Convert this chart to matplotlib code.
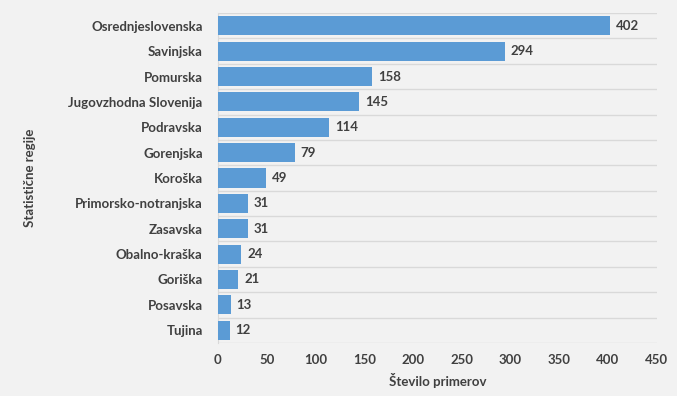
import matplotlib.pyplot as plt
import numpy as np

# === Data ===
regions = ["Osrednjeslovenska", "Savinjska", "Pomurska", "Jugovzhodna Slovenija",
           "Podravska", "Gorenjska", "Koroška", "Primorsko-notranjska", "Zasavska",
           "Obalno-kraška", "Goriška", "Posavska", "Tujina"]
counts = [402, 294, 158, 145, 114, 79, 49, 31, 31, 24, 21, 13, 12]
xticks = [0, 50, 100, 150, 200, 250, 300, 350, 400, 450]

bg = "#f2f2f2"
txt = "#404040"
plt.rcParams['font.family'] = ['Lato', 'DejaVu Sans']

fig = plt.figure(figsize=(6.77, 3.96), dpi=100, facecolor=bg)
ax = fig.add_axes([0.322, 0.134, 0.648, 0.833], facecolor=bg)

y = np.arange(len(regions))
ax.barh(y, counts, height=0.75, color="#5b9bd5", zorder=3)

for yi, c in zip(y, counts):
    ax.text(c + 6, yi, str(c), va="center", ha="left", fontsize=9.5,
            fontweight="bold", color=txt)

# horizontal gridlines between categories
for b in np.arange(-0.5, len(regions), 1.0):
    ax.axhline(b, color="#d9d9d9", lw=1, zorder=1)

ax.set_ylim(len(regions) - 0.5, -0.5)
ax.set_xlim(0, 450)
ax.set_yticks(y)
ax.set_yticklabels(regions, fontsize=9.5, fontweight="bold", color=txt)
ax.set_xticks(xticks)
ax.set_xticklabels([str(t) for t in xticks], fontsize=9.5, fontweight="bold", color=txt)
ax.tick_params(axis="y", length=0, pad=11)
ax.tick_params(axis="x", length=0, pad=8)

for s in ["top", "right", "bottom"]:
    ax.spines[s].set_visible(False)
ax.spines["left"].set_color("#d9d9d9")

ax.set_xlabel("Število primerov", fontsize=9.5, fontweight="bold", color=txt, labelpad=5)
ax.set_ylabel("Statistične regije", fontsize=9.5, fontweight="bold", color=txt)
ax.yaxis.set_label_coords(-0.415, 0.5)

fig.savefig("out.png", dpi=100, facecolor=bg)
